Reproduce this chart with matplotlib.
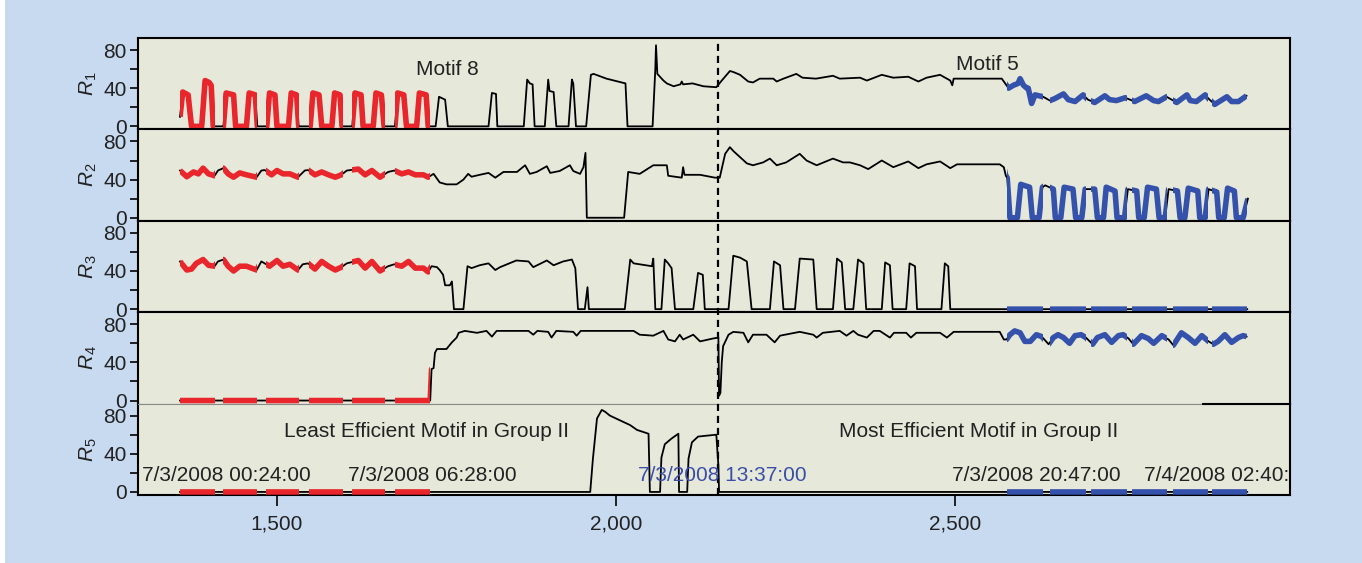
import numpy as np
import matplotlib
matplotlib.use('Agg')
import matplotlib.pyplot as plt
from matplotlib.path import Path
from matplotlib.ticker import FuncFormatter, FixedLocator

plt.rcParams['font.family'] = ['Liberation Sans', 'DejaVu Sans']
plt.rcParams['mathtext.fontset'] = 'custom'
plt.rcParams['mathtext.rm'] = 'Liberation Sans'
plt.rcParams['mathtext.it'] = 'Liberation Sans:italic'

# ---------------- data ----------------
r1_x = [1357, 1361, 1369, 1374, 1389, 1394, 1400, 1403, 1406, 1421, 1425, 1436, 1439,
        1455, 1459, 1468, 1471, 1485, 1489, 1497, 1500, 1517, 1521, 1529, 1532,
        1549, 1553, 1562, 1566, 1581, 1585, 1593, 1596, 1611, 1615, 1624, 1627,
        1642, 1646, 1654, 1658, 1674, 1678, 1687, 1691, 1706, 1710, 1720, 1723,
        1734, 1739, 1748, 1752, 1812, 1817, 1823, 1825, 1864, 1869, 1873, 1877, 1880,
        1895, 1900, 1902, 1908, 1912, 1930, 1935, 1937, 1941, 1956, 1963, 1967, 1986,
        2014, 2017, 2054, 2058, 2059, 2061, 2070, 2075, 2085, 2095, 2097, 2099, 2113,
        2129, 2148, 2156, 2168, 2173, 2183, 2195, 2202, 2212, 2232, 2237, 2247, 2266,
        2275, 2295, 2320, 2330, 2360, 2370, 2392, 2409, 2431, 2446, 2458, 2478, 2493,
        2496, 2498, 2569, 2574, 2579, 2586, 2593, 2596, 2601, 2606, 2608, 2613, 2618,
        2630, 2640, 2647, 2660, 2667, 2677, 2689, 2696, 2706, 2721, 2728, 2738, 2751,
        2765, 2782, 2793, 2800, 2812, 2827, 2842, 2847, 2856, 2869, 2874, 2883, 2901,
        2908, 2918, 2930]
r1_y = [10, 36, 33, 0, 0, 48, 46, 43, 0, 0, 35, 33, 0,
        0, 35, 33, 0, 0, 35, 33, 0, 0, 35, 33, 0,
        0, 35, 33, 0, 0, 35, 33, 0, 0, 35, 33, 0,
        0, 35, 33, 0, 0, 35, 33, 0, 0, 35, 33, 0,
        0, 31, 28, 0, 0, 35, 34, 0, 0, 49, 45, 44, 0,
        0, 49, 37, 36, 0, 0, 49, 45, 0, 0, 54, 55, 50,
        45, 0, 0, 60, 85, 55, 48, 45, 42, 44, 47, 44, 45,
        42, 41, 48, 58, 57, 54, 47, 46, 50, 50, 47, 50, 55,
        51, 50, 53, 50, 51, 48, 54, 51, 52, 47, 51, 54, 48,
        43, 50, 50, 45, 40, 43, 45, 50, 43, 40, 40, 24, 33,
        31, 27, 29, 34, 28, 26, 33, 28, 25, 32, 28, 27, 30,
        26, 32, 27, 26, 31, 25, 33, 27, 26, 33, 29, 23, 31,
        26, 26, 32]

r2_x = [1357, 1367, 1377, 1384, 1391, 1399, 1408, 1413, 1421, 1428, 1436, 1445, 1455,
        1470, 1477, 1482, 1492, 1500, 1509, 1519, 1531, 1541, 1546, 1556, 1566, 1576,
        1586, 1595, 1603, 1620, 1630, 1640, 1652, 1664, 1673, 1684, 1694, 1704, 1716,
        1723, 1731, 1740, 1750, 1765, 1775, 1782, 1787, 1799, 1812, 1822, 1834, 1854,
        1866, 1873, 1883, 1898, 1903, 1917, 1932, 1937, 1947, 1952, 1955, 1957, 2012,
        2018, 2035, 2055, 2075, 2077, 2097, 2099, 2101, 2124, 2146, 2153, 2161, 2168,
        2173, 2193, 2202, 2217, 2227, 2237, 2251, 2271, 2281, 2296, 2320, 2335, 2345,
        2360, 2372, 2392, 2409, 2431, 2446, 2458, 2478, 2493, 2503, 2566, 2572, 2575,
        2577, 2581, 2592, 2597, 2610, 2614, 2624, 2629, 2633, 2645, 2648, 2656, 2661,
        2674, 2678, 2687, 2692, 2706, 2710, 2719, 2723, 2736, 2739, 2750, 2755, 2768,
        2771, 2779, 2784, 2797, 2801, 2810, 2815, 2828, 2832, 2839, 2844, 2858, 2861,
        2869, 2874, 2886, 2889, 2897, 2902, 2912, 2915, 2925, 2932]
r2_y = [49.5, 43, 48, 46, 52, 46, 44, 49.5, 52, 46, 42.5, 47, 45,
        42.5, 49.5, 50, 45, 49.5, 46, 46, 42.5, 49.5, 50, 45, 48, 45,
        42.5, 45, 49.5, 51, 45, 49.5, 42.5, 48, 49.5, 46, 48, 45, 45,
        42.5, 46, 37, 35, 35, 40, 46, 43, 45, 47, 42, 48, 48,
        55, 46, 48, 54, 47, 49, 55, 49, 46, 53, 68, 0, 0,
        48, 46, 55, 55, 44, 42, 53, 45, 45, 42, 42, 67, 74,
        70, 57, 55, 58, 62, 55, 58, 67, 60, 55, 62, 58, 58,
        55, 51, 60, 53, 59, 52, 56, 59, 52, 56, 56, 53, 44,
        42, 0, 0, 35, 32, 0, 0, 32, 34, 30, 0, 0, 32,
        30, 0, 0, 30, 30, 0, 0, 32, 28, 0, 0, 30, 28,
        0, 0, 32, 30, 0, 0, 30, 28, 0, 0, 31, 28, 0,
        0, 30, 27, 0, 0, 31, 28, 0, 0, 20]

r3_x = [1357, 1367, 1374, 1381, 1391, 1399, 1408, 1413, 1421, 1428, 1436, 1445, 1455,
        1470, 1477, 1489, 1500, 1509, 1519, 1531, 1538, 1546, 1556, 1566, 1576, 1586,
        1595, 1603, 1620, 1630, 1640, 1652, 1664, 1673, 1684, 1694, 1704, 1716, 1723,
        1728, 1736, 1740, 1745, 1748, 1755, 1758, 1761, 1775, 1781, 1787, 1799, 1812,
        1822, 1829, 1853, 1871, 1878, 1898, 1908, 1922, 1935, 1940, 1944, 1954, 1958,
        1960, 2013, 2021, 2026, 2053, 2055, 2058, 2067, 2072, 2077, 2082, 2087, 2114,
        2121, 2128, 2131, 2166, 2173, 2183, 2193, 2200, 2227, 2233, 2242, 2247, 2264,
        2271, 2291, 2296, 2320, 2326, 2333, 2338, 2350, 2357, 2365, 2369, 2392, 2397,
        2404, 2408, 2428, 2433, 2441, 2444, 2480, 2485, 2490, 2493, 2931]
r3_y = [50, 41, 42, 48, 52, 46, 45, 50, 52, 45, 40, 45, 45,
        41, 50, 45, 51, 45, 47, 41, 47, 48, 42, 50, 45, 41,
        44, 48, 51, 43, 50, 40, 45, 47, 45, 50, 43, 43, 39,
        45, 44, 41, 36, 25, 25, 29, 0, 0, 45, 43, 46, 48,
        41, 44, 51, 50, 44, 51, 46, 50, 52, 43, 0, 0, 23,
        0, 0, 52, 48, 45, 53, 0, 0, 52, 48, 43, 0, 0,
        38, 36, 0, 0, 56, 54, 50, 0, 0, 50, 46, 0, 0,
        53, 52, 0, 0, 53, 49, 0, 0, 52, 48, 0, 0, 49,
        46, 0, 0, 48, 45, 0, 0, 48, 45, 0, 0]

r4_x = [1357, 1726, 1728, 1731, 1733, 1736, 1750, 1758, 1765, 1768, 1777, 1795, 1809,
        1817, 1824, 1871, 1878, 1884, 1900, 1905, 1912, 1937, 1942, 1948, 2026, 2035,
        2055, 2070, 2077, 2087, 2094, 2099, 2114, 2124, 2143, 2151, 2152, 2154, 2156,
        2158, 2166, 2173, 2188, 2195, 2202, 2222, 2234, 2242, 2271, 2291, 2296, 2305,
        2330, 2340, 2350, 2357, 2370, 2380, 2389, 2404, 2410, 2428, 2435, 2443, 2478,
        2488, 2498, 2566, 2572, 2576, 2581, 2588, 2596, 2603, 2611, 2620, 2628, 2638,
        2645, 2652, 2660, 2669, 2677, 2686, 2693, 2703, 2710, 2721, 2731, 2741, 2748,
        2756, 2763, 2775, 2785, 2793, 2805, 2815, 2822, 2834, 2844, 2854, 2864, 2874,
        2881, 2888, 2898, 2908, 2918, 2925, 2930]
r4_y = [0, 0, 33, 34, 50, 54, 54, 61, 66, 71, 73, 71, 73,
        67, 73, 73, 69, 73, 72, 66, 73, 72, 68, 73, 73, 69,
        68, 73, 64, 62, 69, 64, 69, 62, 65, 66, 5, 8, 40,
        57, 69, 72, 71, 61, 69, 69, 61, 68, 72, 69, 66, 71,
        73, 68, 73, 69, 66, 73, 73, 66, 71, 71, 66, 71, 71,
        66, 72, 72, 64, 64, 69, 73, 71, 62, 62, 69, 67, 59,
        66, 69, 66, 60, 68, 69, 66, 59, 66, 69, 61, 68, 69,
        65, 59, 68, 65, 60, 68, 64, 58, 71, 66, 60, 68, 62,
        59, 62, 69, 61, 66, 68, 67]

r5_x = [1357, 1962, 1966, 1972, 1979, 1984, 1991, 2006, 2021, 2031, 2048, 2050, 2065,
        2067, 2072, 2082, 2092, 2093, 2105, 2107, 2112, 2121, 2134, 2148, 2151, 2152, 2931]
r5_y = [0, 0, 35, 77, 86, 84, 80, 75, 70, 65, 61, 0, 0,
        36, 50, 56, 61, 0, 0, 35, 52, 58, 59, 60, 28, 0, 0]

motif8_windows = [(1357, 1409), (1420, 1471), (1484, 1532), (1547, 1597), (1611, 1659), (1674, 1726)]
motif5_windows = [(2577, 2630), (2640, 2693), (2701, 2754), (2761, 2813), (2822, 2873), (2879, 2931)]

channels = ['$R_1$', '$R_2$', '$R_3$', '$R_4$', '$R_5$']
xticks = [1500, 2000, 2500]
yticks_major = [0, 40, 80]
yticks_minor = [20, 60]
split_x = 2150

date_labels = ['7/3/2008 00:24:00', '7/3/2008 06:28:00', '7/3/2008 13:37:00',
               '7/3/2008 20:47:00', '7/4/2008 02:40:00']
date_x = [1301, 1605, 2032, 2495, 2779]
date_blue = [False, False, True, False, False]

# ---------------- style ----------------
BG = '#c8daf0'
PANEL = '#e6e8d9'
RED = '#e8262b'
BLUE = '#3452ab'
TXT = '#222222'
BLUE_TXT = '#3a4ea8'
FS = 15

fig = plt.figure(figsize=(13.62, 5.63), dpi=100, facecolor=BG)
fig.patches.append(plt.Rectangle((0, 0), 5 / 1362, 1, transform=fig.transFigure,
                                 facecolor='white', edgecolor='none', zorder=-10))
axes = fig.subplots(5, 1, sharex=True)
fig.subplots_adjust(left=0.1013, right=0.9471, top=0.9325, bottom=0.1208, hspace=0)


def windows_path(wins):
    verts, codes = [], []
    for s, e in wins:
        verts += [(s, -50), (e, -50), (e, 150), (s, 150), (s, -50)]
        codes += [Path.MOVETO, Path.LINETO, Path.LINETO, Path.LINETO, Path.CLOSEPOLY]
    return Path(verts, codes)


series = [(r1_x, r1_y), (r2_x, r2_y), (r3_x, r3_y), (r4_x, r4_y), (r5_x, r5_y)]
red_path = windows_path(motif8_windows)
blue_path = windows_path(motif5_windows)

for i, (ax, (xs, ys)) in enumerate(zip(axes, series)):
    ax.set_facecolor(PANEL)
    ax.plot(xs, ys, color='black', lw=1.3, zorder=2)
    lr, = ax.plot(xs, ys, color=RED, lw=4.0, zorder=3, solid_capstyle='butt')
    lr.set_clip_path(red_path, ax.transData)
    lb, = ax.plot(xs, ys, color=BLUE, lw=4.0, zorder=3, solid_capstyle='butt')
    lb.set_clip_path(blue_path, ax.transData)

    ax.set_xlim(1295, 2994)
    ax.set_ylim(-3.2, 92.6)
    ax.yaxis.set_major_locator(FixedLocator(yticks_major))
    ax.yaxis.set_minor_locator(FixedLocator(yticks_minor))
    ax.tick_params(axis='y', which='both', direction='out', length=6, width=1.2,
                   labelsize=FS, labelcolor=TXT, pad=2)
    ax.tick_params(axis='x', which='both', top=False)
    ax.set_ylabel(channels[i], fontsize=FS, color=TXT, labelpad=3)
    for s in ax.spines.values():
        s.set_linewidth(1.5)
        s.set_color('black')
    if i < 4:
        ax.tick_params(axis='x', bottom=False, labelbottom=False)

axes[3].spines['bottom'].set_color('#8a8a8a')
axes[3].spines['bottom'].set_linewidth(0.8)
axes[4].spines['top'].set_color('#8a8a8a')
axes[4].spines['top'].set_linewidth(0.8)
axes[4].axhline(92.6, xmin=0.9245, xmax=1.0, color='black', lw=1.5, clip_on=False, zorder=5)

axb = axes[4]
axb.xaxis.set_major_locator(FixedLocator(xticks))
axb.xaxis.set_major_formatter(FuncFormatter(lambda v, p: f'{int(v):,}'))
axb.tick_params(axis='x', direction='out', length=8, width=1.2, labelsize=FS,
                labelcolor=TXT, pad=6)

# dashed split line through all panels (drawn on the last axes so it sits on top)
axes[4].axvline(split_x, ymin=0.0, ymax=5.0, color='black', lw=1.6,
                linestyle=(0, (3.2, 2.2)), clip_on=False, zorder=6)

# annotations
axes[0].text(1751, 60, 'Motif 8', fontsize=FS, color=TXT, ha='center', va='center')
axes[0].text(2548, 65, 'Motif 5', fontsize=FS, color=TXT, ha='center', va='center')
axes[4].text(1721, 63, 'Least Efficient Motif in Group II', fontsize=FS, color=TXT,
             ha='center', va='center')
axes[4].text(2535, 63, 'Most Efficient Motif in Group II', fontsize=FS, color=TXT,
             ha='center', va='center')
for lab, x, b in zip(date_labels, date_x, date_blue):
    axes[4].text(x, 17, lab, fontsize=FS, color=BLUE_TXT if b else TXT,
                 ha='left', va='center', clip_on=True, zorder=7)

fig.savefig('out.png', dpi=100, facecolor=BG)
